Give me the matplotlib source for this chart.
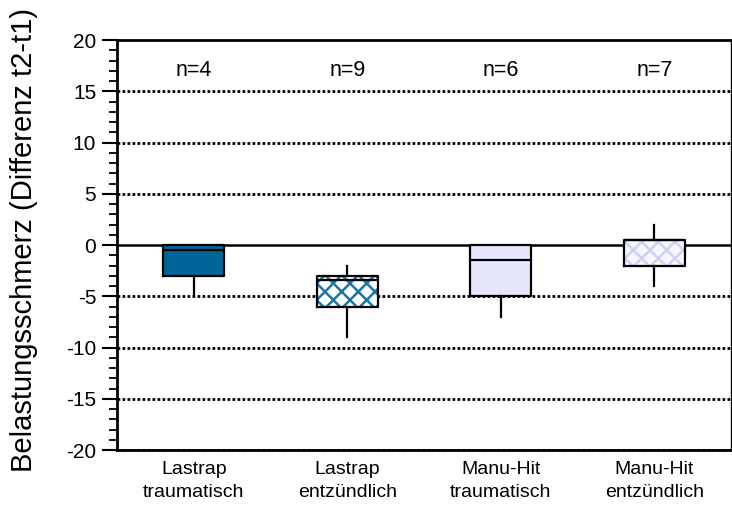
#!/usr/bin/env python3
"""
Boxplot: Belastungsschmerz (Differenz t2-t1) per group
"""

import matplotlib
matplotlib.use('Agg')
import matplotlib.pyplot as plt
from matplotlib.ticker import MultipleLocator

plt.rcParams['font.family'] = ['Liberation Sans', 'DejaVu Sans']
plt.rcParams['hatch.linewidth'] = 1.8
plt.rcParams['axes.unicode_minus'] = False

# Data
categories = ['Lastrap\ntraumatisch', 'Lastrap\nentzündlich',
              'Manu-Hit\ntraumatisch', 'Manu-Hit\nentzündlich']
n_labels = ['n=4', 'n=9', 'n=6', 'n=7']
whisker_low = [-5, -9, -7, -4]
q1 = [-3, -6, -5, -2]
median = [-0.5, -3.4, -1.5, 0.5]
q3 = [0, -3, 0, 0.5]
whisker_high = [0, -2, 0, 2]

# Styling
face_colors = ['#006699', '#ffffff', '#e6e6fa', '#f6f6ff']
hatch_colors = ['#006699', '#1a75a8', '#e6e6fa', '#d0d0f4']
hatches = ['', 'xx', '', 'xx']


def build_stats():
    stats = []
    for i in range(len(categories)):
        stats.append({
            'med': median[i], 'q1': q1[i], 'q3': q3[i],
            'whislo': whisker_low[i], 'whishi': whisker_high[i],
            'fliers': [],
        })
    return stats


fig = plt.figure(figsize=(7.32, 5.11), dpi=100)
ax = fig.add_axes([117 / 732, 1 - 450 / 511, 614 / 732, 410 / 511])

positions = list(range(1, len(categories) + 1))

# Grid lines (dotted) and zero line
for y in range(-20, 20, 5):
    if y == 0:
        ax.axhline(0, color='black', lw=1.8, zorder=1)
    else:
        ax.axhline(y, color='black', lw=2, ls=(0, (1, 0.8)), zorder=1)

# Filled / hatched boxes
fills = ax.bxp(build_stats(), positions=positions, widths=0.4,
               patch_artist=True, showcaps=False, showfliers=False,
               boxprops=dict(linewidth=0), medianprops=dict(linewidth=0),
               whiskerprops=dict(linewidth=0))
for patch, fc, hc, h in zip(fills['boxes'], face_colors, hatch_colors, hatches):
    patch.set_facecolor(fc)
    patch.set_edgecolor(hc)
    patch.set_hatch(h)
    patch.set_zorder(2)

# Outlines, medians, whiskers
ax.bxp(build_stats(), positions=positions, widths=0.4,
       patch_artist=False, showcaps=False, showfliers=False,
       boxprops=dict(color='black', linewidth=1.6, zorder=3),
       medianprops=dict(color='black', linewidth=1.6, zorder=3),
       whiskerprops=dict(color='black', linewidth=1.6, zorder=3))

# n labels
for pos, label in zip(positions, n_labels):
    ax.text(pos, 17, label, ha='center', va='center', fontsize=15.5)

ax.set_xlim(0.5, 4.5)
ax.set_ylim(-20, 20)
ax.yaxis.set_major_locator(MultipleLocator(5))
ax.yaxis.set_minor_locator(MultipleLocator(1))
ax.set_xticks(positions)
ax.set_xticklabels(categories, fontsize=14, linespacing=1.45)
ax.tick_params(axis='x', length=0, pad=8)
ax.tick_params(axis='y', which='major', length=11, width=1.5,
               labelsize=15, pad=4)
ax.tick_params(axis='y', which='minor', length=6, width=1.3)

ax.set_ylabel('Belastungsschmerz (Differenz t2-t1)', fontsize=21)
ax.yaxis.set_label_coords(-0.129, 0.512)

ax.spines['left'].set_linewidth(2)
ax.spines['bottom'].set_linewidth(2)
ax.spines['top'].set_linewidth(2)
ax.spines['right'].set_linewidth(1)

fig.savefig('out.png', dpi=100)
